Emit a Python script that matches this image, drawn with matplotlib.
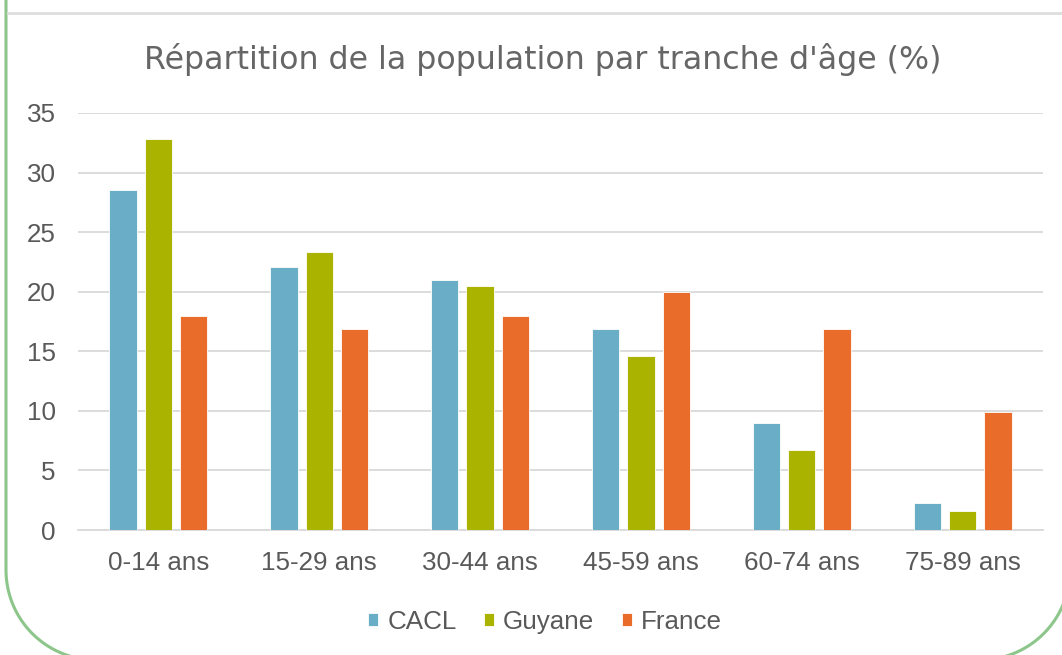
import matplotlib
matplotlib.use("Agg")
from matplotlib import pyplot as plt
import numpy as np

categories = ['0-14 ans', '15-29 ans', '30-44 ans', '45-59 ans', '60-74 ans', '75-89 ans']
cacl = [28.5, 22.1, 21.0, 16.9, 9.0, 2.3]
guyane = [32.8, 23.3, 20.5, 14.6, 6.7, 1.6]
france = [18.0, 16.9, 18.0, 20.0, 16.9, 9.9]
series_names = ['CACL', 'Guyane', 'France']
colors = ['#6AADC6', '#AAB300', '#EA6C2B']
title = "Répartition de la population par tranche d'âge (%)"

W, H = 1062, 655
fig = plt.figure(figsize=(W / 100, H / 100), dpi=100)
fig.patch.set_facecolor('white')

# rounded green frame (pixel coords, y down), top is cut off by the image edge
r = 90
left, right, bottom = 6, 1070, 660
t1 = np.linspace(np.pi, np.pi / 2, 40)
t2 = np.linspace(np.pi / 2, 0, 40)
fx = np.concatenate([[left], left + r + r * np.cos(t1), right - r + r * np.cos(t2), [right]])
fy = np.concatenate([[-10], bottom - r + r * np.sin(t1), bottom - r + r * np.sin(t2), [-10]])
fig.add_artist(plt.Line2D(fx / W, 1 - fy / H, color='#8DC68A', linewidth=2.2,
                          transform=fig.transFigure))
fig.add_artist(plt.Line2D([8 / W, 1], [1 - 13 / H, 1 - 13 / H], color='#DEDEDE',
                          linewidth=2, transform=fig.transFigure))

ax = fig.add_axes([78 / W, (H - 530) / H, (1043 - 78) / W, (530 - 113) / H])
x = np.arange(len(categories))
off = 0.22
bw = 0.17
for i, (vals, name) in enumerate(zip([cacl, guyane, france], series_names)):
    ax.bar(x + (i - 1) * off, vals, bw, color=colors[i], label=name,
           edgecolor='white', linewidth=0.6, zorder=3)

ax.set_xlim(-0.5, len(categories) - 0.5)
ax.set_ylim(0, 35)
ax.set_yticks(range(0, 36, 5))
ax.set_xticks(x)
ax.set_xticklabels(categories)
ax.grid(axis='y', color='#D9D9D9', linewidth=1.3, zorder=0)
for s in ['top', 'right', 'left']:
    ax.spines[s].set_visible(False)
ax.spines['bottom'].set_color('#D9D9D9')
ax.spines['bottom'].set_linewidth(1.3)
ax.tick_params(axis='both', length=0, labelsize=18.7, labelcolor='#595959')
ax.tick_params(axis='x', pad=15)
ax.tick_params(axis='y', pad=16)
for lbl in ax.get_xticklabels() + ax.get_yticklabels():
    lbl.set_family('Liberation Sans')

fig.text(543 / W, 1 - 60 / H, title, ha='center', va='center', fontsize=22.8,
         color='#666666', family='DejaVu Sans')

fig.legend(loc='center', bbox_to_anchor=(545 / W, 1 - 622 / H), ncol=3, frameon=False,
           prop={'family': 'Liberation Sans', 'size': 18.7}, labelcolor='#595959',
           handlelength=0.4, handleheight=0.4, handletextpad=0.35, columnspacing=1.05)

plt.savefig('out.png', dpi=100)
